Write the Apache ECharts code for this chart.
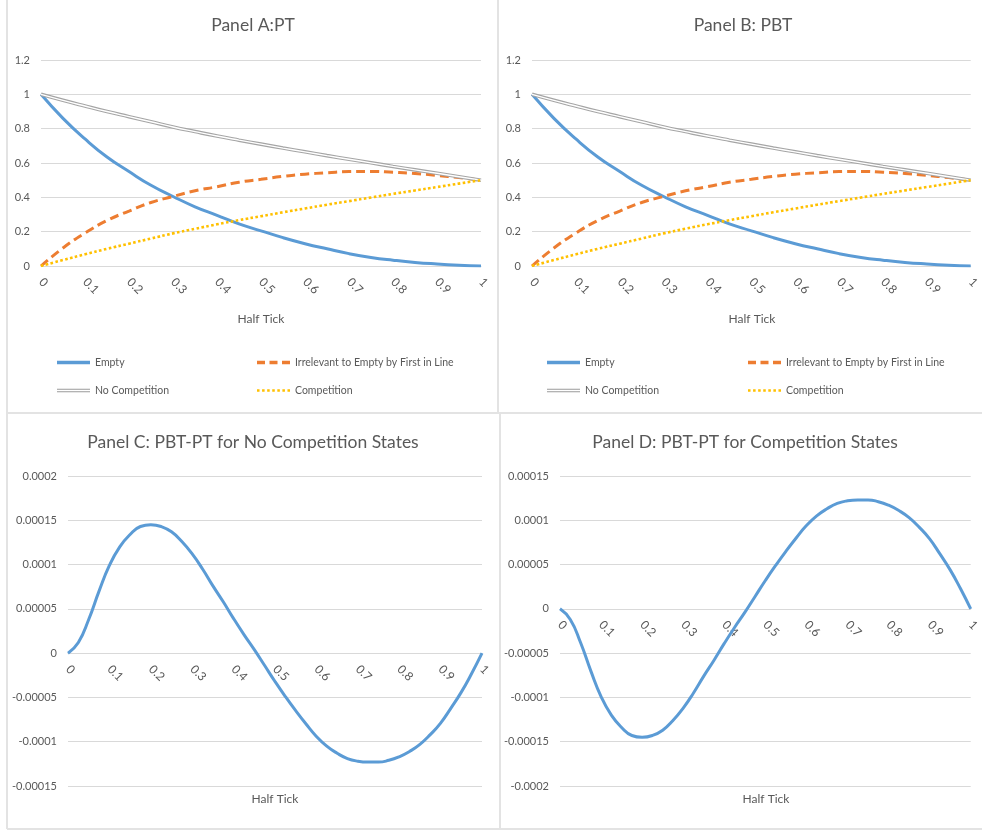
<!DOCTYPE html>
<html>
<head>
<meta charset="utf-8">
<script src="https://cdn.jsdelivr.net/npm/echarts@6/dist/echarts.min.js"></script>
<style>
html,body{margin:0;padding:0;background:#fff;}
#chart{width:982px;height:831px;}
</style>
</head>
<body>
<div id="chart"></div>
<script>
// ---- data ----
const halfTick = [0,0.05,0.1,0.15,0.2,0.25,0.3,0.35,0.4,0.45,0.5,0.55,0.6,0.65,0.7,0.75,0.8,0.85,0.9,0.95,1];
const halfTickFine = [0,0.025,0.05,0.075,0.1,0.125,0.15,0.175,0.2,0.225,0.25,0.275,0.3,0.325,0.35,0.375,0.4,0.425,0.45,0.475,0.5,
                      0.525,0.55,0.575,0.6,0.625,0.65,0.675,0.7,0.725,0.75,0.775,0.8,0.825,0.85,0.875,0.9,0.925,0.95,0.975,1];
const xTickLabels = ['0','0.1','0.2','0.3','0.4','0.5','0.6','0.7','0.8','0.9','1'];

// Panel A: PT
const emptyA       = [1,0.86,0.74,0.635,0.55,0.47,0.405,0.345,0.295,0.245,0.205,0.165,0.13,0.10,0.072,0.05,0.034,0.021,0.012,0.005,0];
const irrelevantA  = [0,0.105,0.192,0.265,0.32,0.37,0.405,0.438,0.462,0.488,0.505,0.522,0.535,0.543,0.55,0.551,0.546,0.539,0.528,0.515,0.5];
const noCompA      = [1,0.965,0.932,0.90,0.87,0.84,0.81,0.783,0.757,0.733,0.71,0.687,0.665,0.643,0.622,0.601,0.58,0.56,0.54,0.52,0.5];
const compA        = [0,0.035,0.068,0.10,0.13,0.16,0.19,0.217,0.243,0.267,0.29,0.313,0.335,0.357,0.378,0.399,0.42,0.44,0.46,0.48,0.5];

// Panel B: PBT
const emptyB       = [1,0.86,0.74,0.635,0.55,0.47,0.405,0.345,0.295,0.245,0.205,0.165,0.13,0.10,0.072,0.05,0.034,0.021,0.012,0.005,0];
const irrelevantB  = [0,0.105,0.192,0.265,0.32,0.37,0.405,0.438,0.462,0.488,0.505,0.522,0.535,0.543,0.55,0.551,0.546,0.539,0.528,0.515,0.5];
const noCompB      = [1,0.965,0.932,0.90,0.87,0.84,0.81,0.783,0.757,0.733,0.71,0.687,0.665,0.643,0.622,0.601,0.58,0.56,0.54,0.52,0.5];
const compB        = [0,0.035,0.068,0.10,0.13,0.16,0.19,0.217,0.243,0.267,0.29,0.313,0.335,0.357,0.378,0.399,0.42,0.44,0.46,0.48,0.5];

// Panel C: PBT-PT for No Competition States
const diffNoComp = [0,0.000012,0.000038,0.000070,0.000099,0.000120,0.000134,0.000143,0.000145,0.000143,0.000137,0.000126,0.000112,
                    0.000095,0.000076,0.000058,0.000039,0.000021,0.000004,-0.000014,-0.000032,-0.000049,-0.000065,-0.000080,
                    -0.000094,-0.000105,-0.000113,-0.000119,-0.000122,-0.000123,-0.000123,-0.000121,-0.000117,-0.000111,
                    -0.000103,-0.000092,-0.000079,-0.000062,-0.000044,-0.000023,0];
// Panel D: PBT-PT for Competition States
const diffComp   = [0,-0.000012,-0.000038,-0.000070,-0.000099,-0.000120,-0.000134,-0.000143,-0.000145,-0.000143,-0.000137,-0.000126,-0.000112,
                    -0.000095,-0.000076,-0.000058,-0.000039,-0.000021,-0.000004,0.000014,0.000032,0.000049,0.000065,0.000080,
                    0.000094,0.000105,0.000113,0.000119,0.000122,0.000123,0.000123,0.000121,0.000117,0.000111,
                    0.000103,0.000092,0.000079,0.000062,0.000044,0.000023,0];

// y-axis ranges per panel (A, B, C, D)
const yMins = [0, 0, -0.00015, -0.0002];
const yMaxs = [1.2, 1.2, 0.0002, 0.00015];
const yIntervals = [0.2, 0.2, 0.00005, 0.00005];

const titles = ['Panel A:PT','Panel B: PBT','Panel C: PBT-PT for No Competition States','Panel D: PBT-PT for Competition States'];
const axisTitle = 'Half Tick';
const seriesNames = ['Empty','Irrelevant to Empty by First in Line','No Competition','Competition'];

// ---- styling ----
const FONT = 'Lato, "Open Sans", sans-serif';
const TXT = '#595959';
const GRIDC = '#d9d9d9';
const C_BLUE = '#5b9bd5', C_ORANGE = '#ed7d31', C_GRAY = '#a5a5a5', C_YELLOW = '#ffc000';

const pairs = (xs, arr) => xs.map((x,i)=>[x,arr[i]]);

const grids = [
  {left:41, top:60, width:440, height:206},
  {left:532, top:60, width:440, height:206},
  {left:68, top:476, width:414, height:310},
  {left:560, top:476, width:413, height:310}
];

// the category labels sit on the zero line (as in the source chart)
function xAxisFor(i){
  const zeroOffset = -grids[i].height * (0 - yMins[i]) / (yMaxs[i] - yMins[i]);
  return {
    type:'value', gridIndex:i, min:0, max:1, interval:0.1, position:'bottom', offset:zeroOffset,
    axisLine:{show:true, onZero:false, lineStyle:{color:GRIDC, width:1}}, axisTick:{show:false}, splitLine:{show:false},
    axisLabel:{rotate:-45, margin:14, color:TXT, fontSize:12, fontFamily:FONT,
      formatter:v=>xTickLabels[Math.round(v*10)]}
  };
}
function yAxisFor(i,fmt){
  return {
    type:'value', gridIndex:i, min:yMins[i], max:yMaxs[i], interval:yIntervals[i],
    axisLine:{show:false, onZero:false}, axisTick:{show:false},
    splitLine:{lineStyle:{color:GRIDC,width:1}},
    axisLabel:{margin:11, color:TXT, fontSize:11, fontFamily:FONT, formatter:fmt}
  };
}
const fmtA = v => String(+v.toFixed(1));
const fmtC = v => String(+v.toFixed(6));

function panelSeries(idx, e, ir, nc, cp){
  return [
    {name:seriesNames[0], type:'line', xAxisIndex:idx, yAxisIndex:idx, data:pairs(halfTick,e), smooth:true, symbol:'none',
      lineStyle:{color:C_BLUE,width:3}, itemStyle:{color:C_BLUE}},
    {name:seriesNames[1], type:'line', xAxisIndex:idx, yAxisIndex:idx, data:pairs(halfTick,ir), smooth:true, symbol:'none',
      lineStyle:{color:C_ORANGE,width:3,type:[9,5]}, itemStyle:{color:C_ORANGE}},
    {name:seriesNames[2], type:'line', xAxisIndex:idx, yAxisIndex:idx, data:pairs(halfTick,nc), smooth:true, symbol:'none',
      lineStyle:{color:C_GRAY,width:3.6}, itemStyle:{color:C_GRAY}},
    {name:'_nc_inner_'+idx, type:'line', xAxisIndex:idx, yAxisIndex:idx, data:pairs(halfTick,nc), smooth:true, symbol:'none', silent:true,
      lineStyle:{color:'#ffffff',width:1.4}, itemStyle:{color:'#ffffff'}},
    {name:seriesNames[3], type:'line', xAxisIndex:idx, yAxisIndex:idx, data:pairs(halfTick,cp), smooth:true, symbol:'none',
      lineStyle:{color:C_YELLOW,width:2.6,type:[2.6,2.4]}, itemStyle:{color:C_YELLOW}}
  ];
}

const icons = [
  'path://M0,0H33V3.5H0Z',
  'path://M0,0H8V3.5H0Z M12.5,0H20.5V3.5H12.5Z M25,0H33V3.5H25Z',
  'path://M0,0H33V1.1H0Z M0,2.5H33V3.6H0Z',
  'path://M0,0H2.5V2.5H0Z M5,0H7.5V2.5H5Z M10,0H12.5V2.5H10Z M15,0H17.5V2.5H15Z M20,0H22.5V2.5H20Z M25,0H27.5V2.5H25Z M30,0H32.5V2.5H30Z'
];
const iconColors = [C_BLUE, C_ORANGE, '#9a9a9a', C_YELLOW];

function legendItem(k, left, top){
  return {
    data:[{name:seriesNames[k], icon:icons[k], itemStyle:{color:iconColors[k]}}],
    left:left, top:top, padding:0, itemWidth:33, itemHeight:12, itemGap:0,
    selectedMode:false, orient:'horizontal', symbolKeepAspect:true,
    textStyle:{color:TXT, fontSize:10.5, fontFamily:FONT}
  };
}

const legends = [
  legendItem(0, 57, 357),
  legendItem(1, 257, 357),
  legendItem(2, 57, 385),
  legendItem(3, 257, 385),
  legendItem(0, 547, 357),
  legendItem(1, 748, 357),
  legendItem(2, 547, 385),
  legendItem(3, 748, 385)
];

function txt(text, x, y, size){
  return {type:'text', x:x, y:y, silent:true,
    style:{text:text, fill:TXT, font: size+'px '+FONT, align:'center', verticalAlign:'middle'}};
}
function ln(x1,y1,x2,y2){
  return {type:'line', silent:true, shape:{x1:x1,y1:y1,x2:x2,y2:y2}, style:{stroke:'#e3e3e3', lineWidth:2}};
}

const option = {
  backgroundColor:'#ffffff',
  animation:false,
  grid:grids,
  xAxis:[xAxisFor(0),xAxisFor(1),xAxisFor(2),xAxisFor(3)],
  yAxis:[yAxisFor(0,fmtA), yAxisFor(1,fmtA), yAxisFor(2,fmtC), yAxisFor(3,fmtC)],
  legend:legends,
  series:[
    ...panelSeries(0, emptyA, irrelevantA, noCompA, compA),
    ...panelSeries(1, emptyB, irrelevantB, noCompB, compB),
    {name:'PBT-PT No Competition', type:'line', xAxisIndex:2, yAxisIndex:2, data:pairs(halfTickFine,diffNoComp), smooth:true, symbol:'none',
      lineStyle:{color:C_BLUE,width:3}, itemStyle:{color:C_BLUE}},
    {name:'PBT-PT Competition', type:'line', xAxisIndex:3, yAxisIndex:3, data:pairs(halfTickFine,diffComp), smooth:true, symbol:'none',
      lineStyle:{color:C_BLUE,width:3}, itemStyle:{color:C_BLUE}}
  ],
  graphic:[
    ln(7,0,7,829), ln(498,0,498,413), ln(7,413,982,413), ln(500,413,500,829), ln(7,829,982,829),
    txt(titles[0], 253, 25, 17.5),
    txt(titles[1], 743, 25, 17.5),
    txt(titles[2], 253, 442, 17.5),
    txt(titles[3], 745, 442, 17.5),
    txt(axisTitle, 261, 319, 12),
    txt(axisTitle, 752, 319, 12),
    txt(axisTitle, 275, 799, 12),
    txt(axisTitle, 766, 799, 12)
  ]
};

const chart = echarts.init(document.getElementById('chart'), null, {renderer:'canvas'});
chart.setOption(option);
</script>
</body>
</html>
